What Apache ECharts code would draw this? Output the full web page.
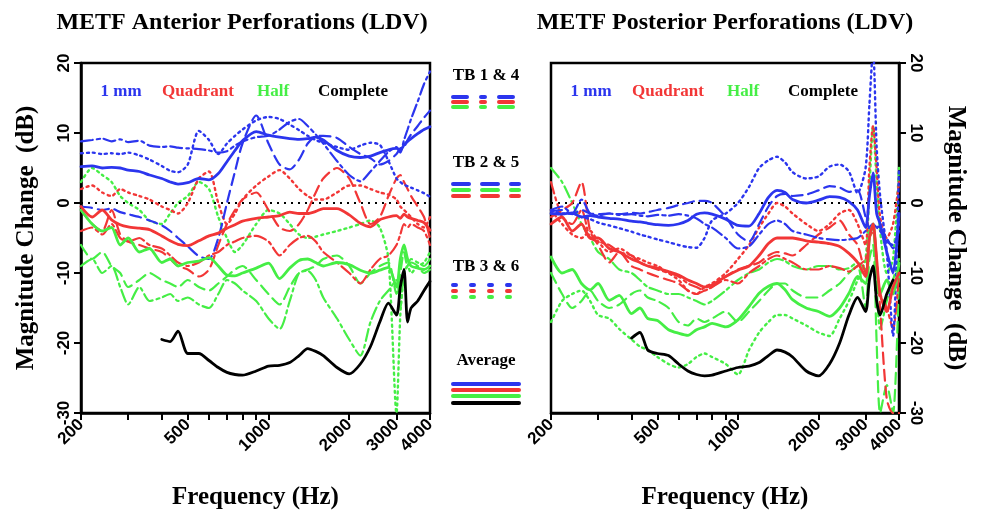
<!DOCTYPE html>
<html>
<head>
<meta charset="utf-8">
<title>METF Perforations (LDV)</title>
<script src="https://cdn.jsdelivr.net/npm/echarts@6/dist/echarts.min.js"></script>
<style>
	html,
	body {
		margin: 0;
		padding: 0;
		background: #fff;
	}
	#chart {
		width: 983px;
		height: 512px;
	}
</style>
</head>
<body>
<div id="chart"></div>
<script>
// frequency grid (Hz) the curves were read at
const freqs = [
	200, 220, 240, 260, 280, 300, 330, 360, 400, 430,
	460, 500, 550, 600, 650, 700, 750, 800, 900, 1000,
	1100, 1200, 1300, 1400, 1500, 1600, 1800, 2000, 2200, 2400,
	2600, 2800, 3000, 3100, 3200, 3300, 3400, 3600, 3800, 4000,
];
const tickFreqs = [200, 300, 400, 500, 600, 700, 800, 900, 1000, 2000, 3000, 4000];
const labelFreqs = [200, 500, 1000, 2000, 3000, 4000];

// ---- anterior perforations (dB)
const antBlueTB14 = [
	8.8, 9.0, 9.2, 8.8, 9.1, 8.7, 8.9, 8.2, 8.0, 8.1,
	7.9, 7.8, 7.7, 7.5, 7.2, 7.4, 8.2, 8.8, 9.4, 9.6,
	10.5, 11.6, 12.0, 11.0, 9.8, 8.5, 6.0, 4.0, 3.1, 4.5,
	6.0, 7.3, 8.0, 7.2, 9.0, 10.5, 12.0, 14.5, 17.0, 18.8,
];
const antBlueTB25 = [
	-0.5, -0.7, -1.0, -0.8, -1.3, -1.6, -2.0, -2.5, -3.2, -4.0,
	-5.0, -6.2, -7.6, -8.0, -5.0, 0.0, 4.5, 8.5, 12.5, 8.5,
	5.5, 4.8, 6.2, 8.5, 9.5, 9.6, 9.3, 8.0, 7.0, 6.4,
	5.5, 6.0, 7.0, 7.8, 8.0, 9.0, 9.8, 11.0, 12.2, 13.2,
];
const antBlueTB36 = [
	7.1, 7.2, 7.0, 7.1, 7.0, 7.2, 6.8, 6.2, 5.3, 4.6,
	4.4, 5.5, 10.3, 9.0, 7.0, 8.5, 9.6, 10.5, 11.8, 12.3,
	12.0, 11.2, 10.4, 9.6, 9.0, 8.6, 8.0, 7.6, 8.2, 8.6,
	8.3, 6.0, 3.5, 3.0, 2.6, 2.4, 2.2, 1.8, 1.4, 0.9,
];
const antBlueAvg = [
	5.2, 5.3, 5.0, 5.1, 5.0, 4.7, 4.5, 4.0, 3.5, 3.0,
	2.7, 2.9, 3.5, 3.3, 4.2, 5.9, 7.5, 8.9, 10.2, 9.7,
	9.4, 9.2, 9.1, 9.2, 9.4, 9.0, 7.5, 6.7, 6.5, 6.7,
	7.2, 7.6, 7.8, 7.5, 8.3, 8.8, 9.2, 9.9, 10.5, 10.9,
];
const antRedTB14 = [
	-4.0, -3.5, -4.5, -3.0, -5.0, -5.5, -5.0, -6.0, -6.5, -7.5,
	-8.5, -9.0, -8.5, -7.5, -7.0, -6.0, -5.5, -5.0, -4.7, -5.5,
	-7.5, -6.0, -5.0, -4.7, -5.5, -7.0, -8.5, -10.0, -11.5, -9.5,
	-8.0, -7.5, -6.0, -4.5, -3.0, -3.5, -3.0, -3.5, -4.0, -6.0,
];
const antRedTB25 = [
	-1.0, -3.0, -4.0, -1.0, -4.5, -5.5, -6.0, -6.5, -7.0, -8.0,
	-9.0, -9.5, -10.5, -9.5, -6.0, -3.0, -1.0, 0.5, 1.5, -1.0,
	-3.5, -4.0, -3.0, -1.0, 1.5, 3.5, 5.0, 3.5, 0.0, -3.0,
	-2.0, 1.0, 3.5, 4.0, 3.0, 2.0, 1.0, -0.5, -2.0, -5.0,
];
const antRedTB36 = [
	2.0, 2.5, 1.5, 1.0, 2.0, 1.5, 1.0, 0.5, -0.5, -1.0,
	-1.5, 0.0, 3.5, 4.5, 0.0, -3.0, -1.5, 0.5, 2.5, 3.8,
	4.7, 3.5, 2.0, 1.0, 0.5, 0.5, 1.5, 2.5, 2.5, 2.0,
	1.5, 1.2, 0.5, -0.5, -1.0, -1.5, -2.0, -3.0, -3.5, -2.0,
];
const antRedAvg = [
	-0.5, -2.0, -1.0, -2.4, -3.1, -3.4, -3.6, -3.8, -4.7, -5.4,
	-5.9, -6.1, -5.4, -4.7, -4.3, -3.6, -3.1, -2.6, -2.2, -2.0,
	-1.8, -1.3, -1.5, -1.5, -1.2, -0.8, -0.8, -1.7, -2.9, -3.4,
	-2.4, -2.0, -1.8, -2.2, -1.6, -2.0, -2.2, -2.5, -2.8, -3.9,
];
const antGreenTB14 = [
	-9.0, -8.0, -10.0, -9.0, -12.0, -14.5, -12.0, -14.0, -13.5, -13.0,
	-14.0, -13.5, -14.5, -15.0, -13.0, -11.0, -11.5, -12.5, -14.0, -16.5,
	-18.0, -14.0, -10.0, -9.7, -11.0, -13.5, -16.5, -19.5, -21.8, -17.0,
	-14.0, -12.5, -11.0, -15.0, -10.0, -9.0, -8.0, -8.5, -9.0, -8.0,
];
const antGreenTB25 = [
	-6.0, -8.0, -7.0, -9.0, -10.0, -12.0, -11.0, -10.0, -11.0, -11.5,
	-12.0, -11.0, -12.0, -12.5, -11.5, -10.5, -9.5, -9.0, -11.0, -13.0,
	-14.5, -12.0, -10.0, -9.5, -9.0, -8.0, -7.5, -9.0, -11.5, -10.0,
	-9.0, -8.5, -13.0, -10.0, -7.0, -9.0, -8.5, -9.0, -10.0, -9.5,
];
const antGreenTB36 = [
	3.0, 5.0, 4.0, 3.0, 1.0, 0.0, -1.0, -2.5, -3.0, -1.5,
	0.0, 1.0, 3.0, 2.0, -2.0, -5.0, -7.0, -6.0, -3.0, -1.0,
	-1.5, -3.0, -4.5, -5.0, -4.8, -4.5, -4.0, -3.5, -3.0, -2.5,
	-3.5, -8.0, -30.0, -16.0, -10.0, -9.0, -10.0, -9.0, -8.5, -7.0,
];
const antGreenAvg = [
	-1.0, -3.0, -4.0, -3.5, -6.0, -5.0, -7.0, -6.5, -8.5, -8.0,
	-9.0, -8.5, -8.3, -7.8, -9.0, -10.3, -10.4, -10.0, -9.3, -8.6,
	-10.8, -9.3, -8.2, -8.0, -8.5, -9.0, -8.5, -8.8, -9.6, -10.0,
	-9.6, -9.2, -12.0, -8.0, -6.0, -8.0, -9.0, -9.3, -9.5, -9.0,
];
const antBlackAvg = [
	null, null, null, null, null, null, null, null, -19.5, -19.8,
	-18.3, -21.5, -21.5, -22.5, -23.5, -24.2, -24.5, -24.6, -24.0, -23.3,
	-23.2, -22.8, -21.8, -20.8, -21.2, -21.8, -23.5, -24.4, -23.0, -20.5,
	-17.0, -14.3, -16.0, -12.0, -9.5, -17.0, -15.0, -14.0, -12.5, -11.2,
];

// ---- posterior perforations (dB)
const postBlueTB14 = [
	-1.0, -0.5, -1.5, 0.5, -1.5, -1.8, -1.5, -1.7, -1.6, -1.8,
	-1.9, -1.7, -1.8, -1.6, -1.8, -2.2, -3.0, -3.5, -5.0, -6.5,
	-6.2, -4.5, -3.0, -2.5, -3.0, -4.0, -4.5, -5.0, -5.2, -5.3,
	-5.2, -5.0, -4.0, -3.5, -3.0, -3.5, -4.0, -5.5, -6.0, -4.0,
];
const postBlueTB25 = [
	-1.2, -1.0, -1.6, -1.0, -1.5, -1.6, -1.5, -1.6, -1.4, -1.5,
	-1.3, -1.0, -0.7, -0.3, 0.0, 0.3, 0.3, 0.0, -2.0, -4.5,
	-5.5, -3.0, -0.5, 1.0, 1.3, 1.0, 1.2, 1.8, 2.4, 2.2,
	1.6, 1.8, -2.0, -3.5, -3.0, -3.3, -3.5, -5.0, -6.5, -3.0,
];
const postBlueTB36 = [
	-1.0, -1.5, -1.5, -2.0, -2.3, -2.8, -3.2, -3.6, -4.1, -4.5,
	-4.8, -5.2, -5.6, -6.0, -6.3, -6.4, -5.0, -2.5, -1.5, 0.0,
	2.3, 5.0, 6.1, 6.6, 5.8, 4.4, 3.5, 3.8, 5.2, 5.5,
	4.5, 1.4, 5.0, 14.0, 22.0, 8.0, 1.0, -7.0, -19.0, 5.0,
];
const postBlueAvg = [
	-1.5, -1.6, -1.4, -2.0, -1.8, -2.0, -2.2, -2.3, -2.6, -2.7,
	-2.9, -3.1, -3.2, -3.0, -2.5, -1.6, -1.4, -1.6, -2.3, -3.2,
	-3.3, -1.5, 0.8, 1.8, 1.5, 0.5, 0.0, 0.4, 0.9, 0.8,
	0.2, -1.0, -3.5, 1.0, 4.3, -1.5, -3.0, -7.0, -10.0, -1.5,
];
const postRedTB14 = [
	3.0, -2.0, -3.0, -1.0, -5.0, -5.5, -6.0, -7.0, -7.5, -8.5,
	-9.0, -9.5, -10.0, -10.5, -11.5, -12.0, -12.5, -12.0, -11.0, -11.5,
	-10.0, -9.0, -8.0, -7.5, -8.0, -8.5, -9.5, -9.5, -9.0, -9.3,
	-9.8, -9.0, -8.0, -5.0, -4.0, -9.0, -13.0, -15.0, -18.0, -10.0,
];
const postRedTB25 = [
	-2.0, -1.0, 0.0, 3.0, -4.0, -6.0, -8.5, -7.0, -9.0, -9.5,
	-10.0, -10.5, -11.0, -11.5, -12.5, -13.0, -12.5, -12.0, -10.5, -9.5,
	-9.0, -8.5, -7.5, -7.0, -7.2, -7.5, -6.0, -4.5, -3.5, -2.5,
	-4.5, -6.0, -10.0, -5.0, -3.0, -8.0, -15.0, -28.0, -30.0, -30.0,
];
const postRedTB36 = [
	-1.0, -3.0, -4.5, -5.0, -4.0, -5.5, -7.0, -6.5, -7.5, -8.0,
	-8.5, -9.0, -10.0, -11.0, -12.5, -13.0, -12.0, -11.5, -10.0, -8.0,
	-6.0, -3.5, -1.5, 0.0, -0.5, -1.5, -3.0, -4.0, -3.0, -1.5,
	-1.0, -3.0, -6.0, 5.0, 11.0, 5.0, -2.0, -5.0, -3.0, 3.0,
];
const postRedAvg = [
	-3.0, -2.0, -4.0, -3.0, -5.0, -5.0, -6.5, -7.0, -8.0, -8.5,
	-9.0, -9.3, -9.8, -10.3, -11.0, -11.5, -12.0, -11.7, -10.5, -9.6,
	-9.0, -7.5, -5.8, -5.0, -5.0, -5.0, -5.4, -5.6, -5.8, -6.2,
	-7.2, -8.5, -10.5, -5.0, -3.0, -8.0, -13.0, -15.5, -12.0, -10.0,
];
const postGreenTB14 = [
	5.0, 3.0, 0.0, -3.0, -5.0, -7.0, -8.0, -9.5, -10.0, -11.0,
	-12.0, -12.5, -13.0, -13.0, -13.5, -14.0, -14.5, -14.0, -12.5, -11.0,
	-10.0, -9.5, -8.5, -8.0, -8.3, -9.0, -9.5, -9.0, -9.0, -9.5,
	-9.3, -8.5, -9.5, -4.0, -3.0, -12.0, -18.0, -14.0, -11.0, -8.0,
];
const postGreenTB25 = [
	-10.0, -13.0, -15.0, -14.0, -12.5, -14.0, -15.0, -14.5, -13.0, -12.5,
	-13.5, -14.0, -15.0, -17.0, -17.5, -16.5, -17.0, -16.5, -15.5, -17.0,
	-15.5, -14.0, -12.5, -11.5, -11.5, -12.5, -13.5, -13.5, -12.5, -11.5,
	-10.0, -9.0, -15.0, -8.0, -6.0, -20.0, -30.0, -26.0, -30.0, -10.0,
];
const postGreenTB36 = [
	-17.0, -14.0, -13.0, -12.5, -14.0, -16.0, -16.5, -18.0, -19.5, -20.5,
	-21.0, -22.0, -23.0, -23.5, -23.0, -22.0, -21.5, -22.0, -23.0, -24.5,
	-21.0, -18.5, -17.0, -16.0, -16.0, -16.5, -17.5, -18.5, -19.0, -16.5,
	-14.0, -11.0, -8.0, 2.0, 11.0, 3.0, -4.0, -10.0, -8.0, 5.0,
];
const postGreenAvg = [
	-7.7, -10.0, -9.5, -11.5, -12.4, -11.5, -13.9, -13.2, -15.8, -15.0,
	-16.5, -16.8, -18.1, -18.6, -18.9, -18.1, -17.7, -17.2, -17.7, -16.7,
	-14.8, -12.9, -11.9, -11.5, -12.4, -13.8, -15.0, -15.5, -16.2, -15.0,
	-12.9, -10.5, -11.5, -5.0, -3.0, -9.0, -13.0, -11.0, -13.0, -8.6,
];
const postBlackAvg = [
	null, null, null, null, null, null, null, null, -19.3, -18.5,
	-21.0, -21.5, -21.8, -23.0, -24.0, -24.5, -24.7, -24.6, -24.0, -23.5,
	-23.3, -22.8, -21.8, -21.0, -21.3, -22.0, -24.0, -24.7, -23.0, -20.0,
	-16.0, -13.5, -15.5, -11.0, -9.0, -14.0, -16.0, -13.0, -11.0, null,
];

const BLUE = "#2b35ee";
const RED = "#f23636";
const GREEN = "#45ee45";
const BLACK = "#000000";

const SERIF = "'Liberation Serif', 'Times New Roman', serif";
const SANS = "'Liberation Sans', Arial, sans-serif";

const lineTypes = {
	tb14: { type: [12, 4, 3, 4], width: 2.2 },
	tb25: { type: [11, 6], width: 2.2 },
	tb36: { type: [2, 4], width: 2.4 },
	avg: { type: "solid", width: 2.8 },
};

const panels = [
	{
		curves: [
			[antGreenTB14, GREEN, "tb14"], [antGreenTB25, GREEN, "tb25"], [antGreenTB36, GREEN, "tb36"],
			[antRedTB14, RED, "tb14"], [antRedTB25, RED, "tb25"], [antRedTB36, RED, "tb36"],
			[antBlueTB14, BLUE, "tb14"], [antBlueTB25, BLUE, "tb25"], [antBlueTB36, BLUE, "tb36"],
			[antGreenAvg, GREEN, "avg"], [antRedAvg, RED, "avg"], [antBlueAvg, BLUE, "avg"],
			[antBlackAvg, BLACK, "avg"],
		],
	},
	{
		curves: [
			[postGreenTB14, GREEN, "tb14"], [postGreenTB25, GREEN, "tb25"], [postGreenTB36, GREEN, "tb36"],
			[postRedTB14, RED, "tb14"], [postRedTB25, RED, "tb25"], [postRedTB36, RED, "tb36"],
			[postBlueTB14, BLUE, "tb14"], [postBlueTB25, BLUE, "tb25"], [postBlueTB36, BLUE, "tb36"],
			[postGreenAvg, GREEN, "avg"], [postRedAvg, RED, "avg"], [postBlueAvg, BLUE, "avg"],
			[postBlackAvg, BLACK, "avg"],
		],
	},
];

const axisText = { color: "#000", fontFamily: SANS, fontWeight: "bold", fontSize: 17 };
const nameText = { color: "#000", fontFamily: SERIF, fontWeight: "bold", fontSize: 25 };

function makeXAxis(gridIndex) {
	return {
		type: "log",
		logBase: 10,
		gridIndex: gridIndex,
		min: 200,
		max: 4000,
		name: "Frequency (Hz)",
		nameLocation: "middle",
		nameGap: 72,
		nameTextStyle: nameText,
		axisLine: { show: true, onZero: false, lineStyle: { color: "#000", width: 2.5 } },
		axisTick: { show: true, customValues: tickFreqs, length: 7, lineStyle: { color: "#000", width: 2 } },
		axisLabel: Object.assign({ customValues: labelFreqs, rotate: 45, margin: 9, formatter: v => String(Math.round(v)) }, axisText),
		minorTick: { show: false },
		splitLine: { show: false },
	};
}

function makeYAxis(gridIndex, side) {
	return {
		type: "value",
		gridIndex: gridIndex,
		position: side,
		min: -30,
		max: 20,
		interval: 10,
		name: "Magnitude Change  (dB)",
		nameLocation: "middle",
		nameRotate: side === "left" ? 90 : -90,
		nameGap: side === "left" ? 42 : 44,
		nameTextStyle: nameText,
		axisLine: { show: true, lineStyle: { color: "#000", width: 2.5 } },
		axisTick: { show: true, length: 7, lineStyle: { color: "#000", width: 2 } },
		axisLabel: Object.assign({ rotate: side === "left" ? 90 : -90, margin: 8 }, axisText),
		splitLine: { show: false },
	};
}

const option = {
	animation: false,
	backgroundColor: "#fff",
	grid: [
		{ left: 81, top: 63, width: 349, height: 350, outerBoundsMode: "none", show: true, borderColor: "#000", borderWidth: 2.5 },
		{ left: 551, top: 63, width: 348, height: 350, outerBoundsMode: "none", show: true, borderColor: "#000", borderWidth: 2.5 },
	],
	xAxis: [makeXAxis(0), makeXAxis(1)],
	yAxis: [makeYAxis(0, "left"), makeYAxis(1, "right")],
	series: [],
	graphic: [],
};

panels.forEach((panel, p) => {
	panel.curves.forEach((c, i) => {
		const s = {
			type: "line",
			xAxisIndex: p,
			yAxisIndex: p,
			symbol: "none",
			smooth: 0.25,
			connectNulls: false,
			data: freqs.map((f, k) => [f, c[0][k]]),
			lineStyle: Object.assign({ color: c[1], cap: "round" }, lineTypes[c[2]]),
			z: 2 + i,
		};
		if (i === 0) {
			s.markLine = {
				silent: true,
				symbol: "none",
				label: { show: false },
				lineStyle: { color: "#000", type: [2, 5], width: 2 },
				data: [{ yAxis: 0 }],
			};
		}
		option.series.push(s);
	});
});

// titles and in-panel labels
const g = option.graphic;
function txt(text, x, y, size, color, family) {
	g.push({
		type: "text",
		x: x,
		y: y,
		style: {
			text: text,
			fill: color || "#000",
			font: "bold " + size + "px " + (family || SERIF),
			textAlign: "center",
			textVerticalAlign: "middle",
		},
	});
}
txt("METF Anterior Perforations (LDV)", 242, 23, 24);
txt("METF Posterior Perforations (LDV)", 725, 23, 24);

[["1 mm", BLUE, 121], ["Quadrant", RED, 198], ["Half", GREEN, 273], ["Complete", BLACK, 353]].forEach(l => {
	txt(l[0], l[2], 92, 17, l[1]);
	txt(l[0], l[2] + 470, 92, 17, l[1]);
});

// centre legend of line styles
function legLine(y, color, dash, width) {
	g.push({
		type: "line",
		shape: { x1: 453, y1: y, x2: 519, y2: y },
		style: { stroke: color, lineWidth: width || 4, lineDash: dash, lineCap: "round" },
	});
}
txt("TB 1 & 4", 486, 76, 17);
legLine(97, BLUE, [14, 14, 4, 14]);
legLine(102, RED, [14, 14, 4, 14]);
legLine(107, GREEN, [14, 14, 4, 14]);

txt("TB 2 & 5", 486, 163, 17);
legLine(184, BLUE, [16, 13]);
legLine(190, GREEN, [16, 13]);
legLine(196, RED, [16, 13]);

txt("TB 3 & 6", 486, 267, 17);
legLine(285, BLUE, [3, 15]);
legLine(291, RED, [3, 15]);
legLine(297, GREEN, [3, 15]);

txt("Average", 486, 361, 17);
legLine(384, BLUE, null);
legLine(390, RED, null);
legLine(396, GREEN, null);
legLine(403, BLACK, null);

const myEcharts = echarts.init(document.getElementById("chart"), null, { renderer: "canvas" });
myEcharts.setOption(option);
</script>
</body>
</html>
